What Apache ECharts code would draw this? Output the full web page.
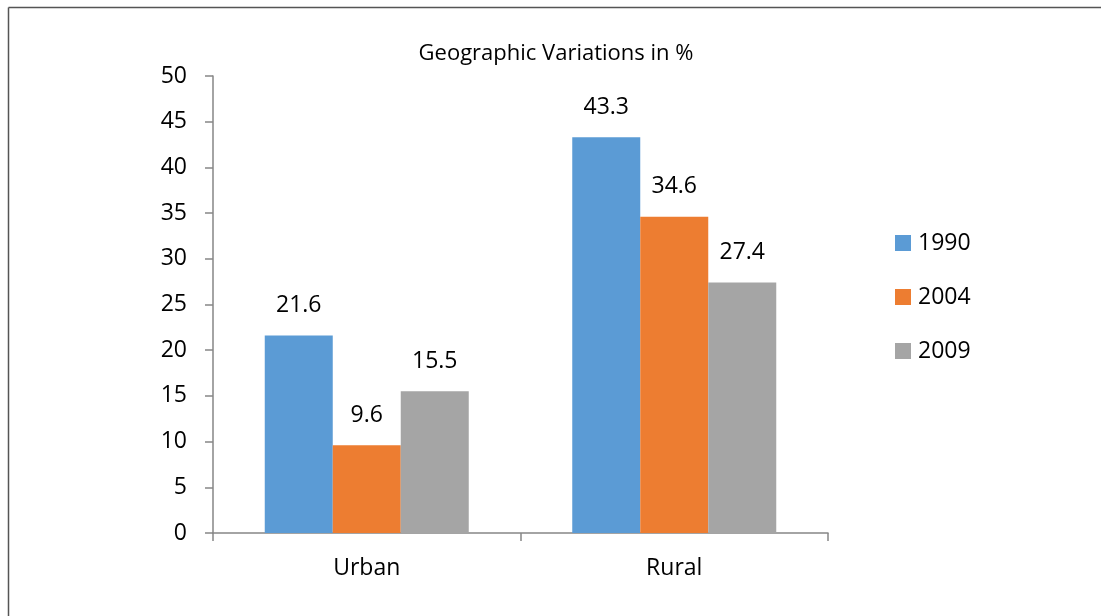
<!DOCTYPE html>
<html>
<head>
<meta charset="utf-8">
<script src="https://cdn.jsdelivr.net/npm/echarts@6/dist/echarts.min.js"></script>
<style>
html,body{margin:0;padding:0;background:#fff;}
#chart{width:1101px;height:616px;}
</style>
</head>
<body>
<div id="chart"></div>
<script>
const categories = ['Urban', 'Rural'];
const seriesNames = ['1990', '2004', '2009'];
const values1990 = [21.6, 43.3];
const values2004 = [9.6, 34.6];
const values2009 = [15.5, 27.4];
const yTicks = { min: 0, max: 50, interval: 5 };
const titleText = 'Geographic Variations in %';

const colors = ['#5B9BD5', '#ED7D31', '#A5A5A5'];
const FONT = 'Open Sans';
const seriesData = [values1990, values2004, values2009];

const chart = echarts.init(document.getElementById('chart'), null, { renderer: 'canvas' });
chart.setOption({
  animation: false,
  backgroundColor: '#fff',
  title: {
    text: titleText,
    left: 556,
    top: 43,
    padding: 0,
    textAlign: 'center',
    textStyle: { fontFamily: FONT, fontSize: 22, fontWeight: 'normal', color: '#000' }
  },
  legend: {
    orient: 'vertical',
    left: 895,
    top: 231,
    padding: 0,
    itemWidth: 16,
    itemHeight: 16,
    itemGap: 30,
    icon: 'rect',
    textStyle: { fontFamily: FONT, fontSize: 23, color: '#000', lineHeight: 24, padding: [0, 0, 0, 2] },
    data: seriesNames
  },
  grid: { left: 213, right: 273, top: 76, bottom: 83, containLabel: false },
  xAxis: {
    type: 'category',
    data: categories,
    boundaryGap: true,
    axisLine: { show: true, lineStyle: { color: '#868686', width: 1.5 } },
    axisTick: { show: true, length: 8, alignWithLabel: false, lineStyle: { color: '#868686', width: 1.5 } },
    axisLabel: { fontFamily: FONT, fontSize: 23, color: '#000', margin: 24 }
  },
  yAxis: {
    type: 'value',
    min: yTicks.min,
    max: yTicks.max,
    interval: yTicks.interval,
    splitLine: { show: false },
    axisLine: { show: true, lineStyle: { color: '#868686', width: 1.5 } },
    axisTick: { show: true, length: 8, lineStyle: { color: '#868686', width: 1.5 } },
    axisLabel: { fontFamily: FONT, fontSize: 23, color: '#000', margin: 26 }
  },
  series: seriesNames.map((name, i) => ({
    name: name,
    type: 'bar',
    data: seriesData[i],
    barWidth: 68,
    barGap: '0%',
    itemStyle: { color: colors[i] },
    label: {
      show: true,
      position: 'top',
      distance: 18,
      fontFamily: FONT,
      fontSize: 23,
      lineHeight: 24,
      color: '#000'
    }
  })),
  graphic: [
    { type: 'line', shape: { x1: 8.5, y1: 7.5, x2: 1101, y2: 7.5 }, style: { stroke: '#555', lineWidth: 1.5 } },
    { type: 'line', shape: { x1: 8.5, y1: 7.5, x2: 8.5, y2: 616 }, style: { stroke: '#555', lineWidth: 1.5 } }
  ]
});
</script>
</body>
</html>
